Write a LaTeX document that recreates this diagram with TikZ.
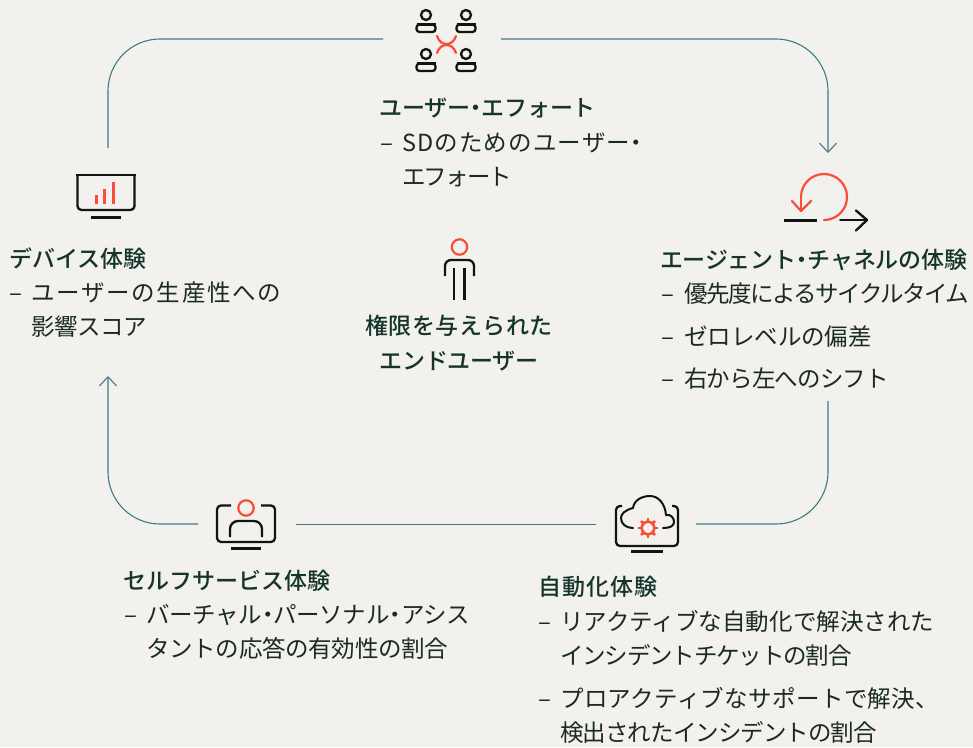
\documentclass[tikz,border=0pt]{standalone}
\usepackage{fontspec}
\usetikzlibrary{arrows.meta}
\setmainfont{Noto Sans CJK JP}
\newfontfamily\jpbody{Noto Sans CJK JP}
\newfontfamily\jphead{Noto Sans CJK JP Medium}
\newcommand{\ls}[1]{\addfontfeatures{LetterSpace=#1}}
\newcommand{\nd}{\kern-.25em ・\kern-.25em }
\definecolor{bgc}{HTML}{F2F1ED}
\definecolor{tealc}{HTML}{3F7C84}
\definecolor{redc}{HTML}{FA4D38}
\definecolor{inkc}{HTML}{101412}
\definecolor{headc}{HTML}{15352A}
\definecolor{bodyc}{HTML}{1B2A24}
\tikzset{
 flow/.style={draw=tealc,line width=1.1pt,rounded corners=52pt},
 flowtip/.style={flow,-{Straight Barb[length=9pt,width=17pt,line width=1.1pt]}},
 ink/.style={draw=inkc,line width=2.3pt,line cap=round,line join=round},
 inkb/.style={draw=inkc,line width=3pt},
 hot/.style={draw=redc,line width=2.2pt,line cap=round,line join=round},
 heading/.style={anchor=base west,inner sep=0pt,text=headc,font=\jphead\fontsize{23}{26}\selectfont},
 headingc/.style={anchor=base,inner sep=0pt,text=headc,font=\jphead\fontsize{23}{26}\selectfont},
 bodytxt/.style={anchor=base west,inner sep=0pt,text=bodyc,font=\jpbody\fontsize{23.5}{26}\selectfont},
 dashtxt/.style={bodytxt,font=\jpbody\fontsize{24}{26}\selectfont},
}
\begin{document}
\begin{tikzpicture}[x=1pt,y=-1pt]
\fill[bgc] (0,0) rectangle (973,747);
\useasboundingbox (0,0) rectangle (973,747);
% connector ends
\coordinate (topL) at (383,39);
\coordinate (topLc) at (108,39);
\coordinate (devT) at (108,148);
\coordinate (topR) at (501,39);
\coordinate (topRc) at (828,39);
\coordinate (agT) at (828,153);
\coordinate (agB) at (828,401);
\coordinate (botRc) at (828,524);
\coordinate (autoR) at (696,524);
\coordinate (autoL) at (596,524);
\coordinate (selfR) at (296,524);
\coordinate (selfL) at (198,524);
\coordinate (botLc) at (108,524);
\coordinate (devB) at (108,376);
\draw[flow] (topL) -- (topLc) -- (devT);
\draw[flowtip] (topR) -- (topRc) -- (agT);
\draw[flow] (agB) -- (botRc) -- (autoR);
\draw[flow,line width=1pt] (autoL) -- (selfR);
\draw[flowtip] (selfL) -- (botLc) -- (devB);
% users icon
\foreach \cx/\cy in {426/15,466/15,426/54,466/54}{
 \draw[ink] (\cx,\cy) circle (5);
 \begin{scope}[rounded corners=3pt]
 \draw[ink] (\cx,\cy+9.5) -- (\cx+9.5,\cy+9.5) -- (\cx+9.5,\cy+17) -- (\cx-9.5,\cy+17) -- (\cx-9.5,\cy+9.5) -- cycle;
 \end{scope}
 \draw[ink,line cap=butt] (\cx-9.5,\cy+9.5) -- (\cx+9.5,\cy+9.5);
}
\draw[hot] (437,36) .. controls (439,42) and (443,44) .. (446.5,44) .. controls (450,44) and (454,42) .. (456,36);
\draw[hot] (437,53) .. controls (439,47) and (443,45) .. (446.5,45) .. controls (450,45) and (454,47) .. (456,53);
% loop icon
\draw[hot] (824,220) arc[start angle=-90,end angle=180,x radius=23,y radius=-23] ;
\draw[hot] (801,197) -- (801,211);
\draw[hot] (792,201) -- (801,211) -- (811,201);
\draw[inkb] (784,220) -- (817,220);
\draw[ink,line width=1.8pt] (840,220) -- (866,220);
\draw[ink] (856,210.5) -- (867,220) -- (856,230.5);
% monitor icon
\draw[ink,line cap=butt,rounded corners=4pt] (77.5,175) -- (77.5,210) -- (134.5,210) -- (134.5,175);
\draw[ink,line cap=butt] (76.4,175) -- (135.6,175);
\draw[inkb] (91,217) -- (121,217);
\fill[redc] (95,195) rectangle (98,204);
\fill[redc] (103,189) rectangle (106,204);
\fill[redc] (112,182) rectangle (115,204);
% person icon
\draw[hot] (459.5,247) circle (7.7);
\draw[ink,rounded corners=6pt,line cap=butt] (445,276) -- (445,260) -- (474,260) -- (474,276);
\draw[ink,line cap=butt] (454,268) -- (454,300);
\draw[ink,line cap=butt] (464.5,268) -- (464.5,300);
% self-service icon
\draw[ink,rounded corners=4pt,line cap=butt] (231,505.5) -- (217,505.5) -- (217,542) -- (275,542) -- (275,505.5) -- (261,505.5);
\draw[inkb] (231,548) -- (261,548);
\draw[hot] (246,508) circle (7.7);
\draw[ink,rounded corners=8pt,line cap=butt] (230,537) -- (230,521) -- (262,521) -- (262,537);
% automation icon
\draw[ink,rounded corners=4pt,line cap=butt] (622,506) -- (616,506) -- (616,546) -- (678,546) -- (678,506) -- (672,506);
\draw[inkb] (631,551) -- (663,551);
\draw[ink,line width=2pt] (633,508) .. controls (625,510) and (621,514) .. (621,518) .. controls (621,524) and (626,528) .. (633,528);
\draw[ink,line width=2pt] (633,508) .. controls (634,500) and (642,496) .. (650,496) .. controls (658,496) and (665,503) .. (666,515);
\draw[ink,line width=2pt] (666,515) .. controls (671,514) and (674,518) .. (674,522) .. controls (674,526) and (670,528) .. (663,528);
\draw[hot,line width=2.6pt] (648,528) circle (6.3);
\foreach \a in {0,45,...,315}{
 \draw[draw=redc,line width=2.6pt] (648,528) ++(\a:6.3) -- ++(\a:3.6);
}
% text
\node[heading] (h1) at (379,116) {\ls{-0.9}ユーザー\nd エフォート};
\node[dashtxt] (d1) at (380,151) {–};
\node[bodytxt] (t1a) at (402,151) {\ls{4.9}SDのためのユーザー\nd};
\node[bodytxt] (t1b) at (402,185) {\ls{-8}エフォート};
\node[heading] (h2) at (660,268) {\ls{-1.2}エージェント\nd チャネルの体験};
\node[dashtxt] (d2a) at (661,302) {–};
\node[bodytxt] (t2a) at (684,302) {\ls{-6.4}優先度によるサイクルタイム};
\node[dashtxt] (d2b) at (661,345) {–};
\node[bodytxt] (t2b) at (684,345) {\ls{-0.2}ゼロレベルの偏差};
\node[dashtxt] (d2c) at (661,387) {–};
\node[bodytxt] (t2c) at (684,387) {\ls{-3.7}右から左へのシフト};
\node[heading] (h3) at (9,267) {\ls{-0.4}デバイス体験};
\node[dashtxt] (d3) at (9,301) {–};
\node[bodytxt] (t3a) at (31,301) {\ls{7.3}ユーザーの生産性への};
\node[bodytxt] (t3b) at (31,335) {\ls{-1.7}影響スコア};
\node[headingc] (h4a) at (459,334) {\ls{2.3}権限を与えられた};
\node[headingc] (h4b) at (459,369) {\ls{-1.2}エンドユーザー};
\node[heading] (h5) at (123,589) {\ls{0.4}セルフサービス体験};
\node[dashtxt] (d5) at (124,623) {–};
\node[bodytxt] (t5a) at (146,623) {\ls{-1.7}バーチャル\nd パーソナル\nd アシス};
\node[bodytxt] (t5b) at (146,657) {\ls{-1.2}タントの応答の有効性の割合};
\node[heading] (h6) at (538,595) {\ls{4.7}自動化体験};
\node[dashtxt] (d6a) at (538,630) {–};
\node[bodytxt] (t6a) at (560,630) {\ls{0.2}リアクティブな自動化で解決された};
\node[bodytxt] (t6b) at (560,664) {\ls{-5}インシデントチケットの割合};
\node[dashtxt] (d6b) at (538,707) {–};
\node[bodytxt] (t6c) at (560,707) {\ls{1.6}プロアクティブなサポートで解決、};
\node[bodytxt] (t6d) at (560,741) {\ls{-4}検出されたインシデントの割合};
\end{tikzpicture}
\end{document}
